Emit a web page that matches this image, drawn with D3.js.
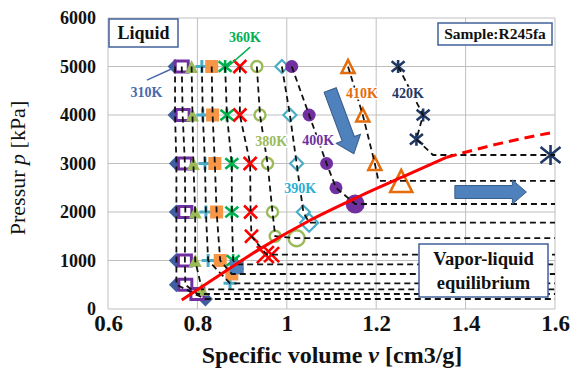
<!DOCTYPE html>
<html>
<head>
<meta charset="utf-8">
<script src="https://cdn.jsdelivr.net/npm/d3@7"></script>
<style>
body { margin: 0; background: #fff; }
</style>
</head>
<body>
<div id="chart"></div>
<script>
// isotherms of R245fa: [specific volume cm3/g, pressure kPa]
var temps = ["310K", "320K", "330K", "340K", "350K", "360K", "370K", "380K", "390K", "400K", "410K", "420K"];

var iso310 = [[0.750, 5000], [0.750, 4000], [0.753, 3000], [0.753, 2000], [0.753, 1000], [0.753, 500]];
var iso320 = [[0.765, 5000], [0.767, 4000], [0.772, 3000], [0.773, 2000], [0.772, 1000], [0.773, 500]];
var iso330 = [[0.787, 5000], [0.789, 4000], [0.791, 3000], [0.795, 2000], [0.795, 1000]];
var iso340 = [[0.810, 5000], [0.812, 4000], [0.817, 3000], [0.819, 2000], [0.824, 1000]];
var iso350 = [[0.832, 5000], [0.834, 4000], [0.839, 3000], [0.843, 2000], [0.851, 1000]];
var iso360 = [[0.862, 5000], [0.866, 4000], [0.877, 3000], [0.877, 2000], [0.880, 1000]];
var iso370 = [[0.895, 5000], [0.895, 4000], [0.918, 3000], [0.919, 2000], [0.921, 1500]];
var iso380 = [[0.933, 5000], [0.940, 4000], [0.957, 3000], [0.968, 2000], [0.974, 1500]];
var iso390 = [[0.989, 5000], [1.007, 4000], [1.022, 3000], [1.037, 2000]];
var iso400 = [[1.011, 5000], [1.050, 4000], [1.089, 3000], [1.110, 2500]];
var iso410 = [[1.137, 5000], [1.170, 4000], [1.197, 3000]];
var iso420 = [[1.249, 5000], [1.305, 4000], [1.290, 3500]];

// vapor-liquid equilibrium pressure of each isotherm, where its dashed line bends, and its marker
var satP  = [206, 309, 406, 530, 722, 920, 1120, 1460, 1780, 2165, 2640, 3175];
var kneeV = [0.818, 0.800, 0.810, 0.873, 0.877, 0.888, 0.955, 1.022, 1.050, 1.153, 1.205, 1.327];
var satV  = [0.818, 0.800, 0.810, 0.873, 0.877, 0.888, 0.952, 1.022, 1.050, 1.153, 1.256, 1.590];
var extraSquare = [[0.888, 860]];
var extraCross = [[0.966, 1120]];

// saturated liquid line (solid part, then extrapolated dashed part)
var satLineV = [0.765, 0.850, 0.940, 1.052, 1.164, 1.268, 1.358];
var satLineP = [185, 700, 1240, 1830, 2330, 2760, 3130];
var extLineV = [1.358, 1.480, 1.600];
var extLineP = [3130, 3420, 3650];

var xTicks = [0.6, 0.8, 1, 1.2, 1.4, 1.6];
var yTicks = [0, 1000, 2000, 3000, 4000, 5000, 6000];

// temperature label positions [v, p] and leader lines
var labelPos = [[0.686, 4480], null, null, null, null, [0.9065, 5610], null, [0.965, 3464], [1.030, 2495], [1.070, 3485], [1.168, 4454], [1.271, 4454]];
var leader310 = [[0.687, 4720], [0.748, 4975]];
var leader360 = [[0.918, 5400], [0.866, 4980]];

var isos = [iso310, iso320, iso330, iso340, iso350, iso360, iso370, iso380, iso390, iso400, iso410, iso420];
var kinds = ["diamond", "openSquare", "triangle", "plus", "square", "star", "cross", "openCircle", "openDiamond", "circle", "openTriangle", "star"];
var colors = ["#3F5FA0", "#7030A0", "#9BBB59", "#4BACC6", "#F79646", "#00B050", "#FF0000", "#9BBB59", "#4BACC6", "#7030A0", "#E46C0A", "#1F3864"];
var labelColors = ["#4769AE", "", "", "", "", "#00B050", "", "#9BBB59", "#2AAED6", "#7030A0", "#E46C0A", "#1F3864"];
var satSizes = [13, 13, 13, 13, 13, 13, 17, 18, 18, 19, 22, 20];

var W = 582, H = 373;
var pL = 108, pR = 555, pT = 18, pB = 309;
var serif = "'Liberation Serif', 'Times New Roman', serif";

var x = d3.scaleLinear().domain([0.6, 1.6]).range([pL, pR]);
var y = d3.scaleLinear().domain([0, 6000]).range([pB, pT]);

var svg = d3.select("#chart").append("svg")
  .attr("width", W)
  .attr("height", H)
  .style("font-family", serif);

svg.append("rect").attr("width", W).attr("height", H).attr("fill", "#fff");

// grid
var grid = svg.append("g");
grid.selectAll(".hg").data(yTicks).enter().append("line")
  .attr("x1", pL).attr("x2", pR)
  .attr("y1", function(d) { return y(d); }).attr("y2", function(d) { return y(d); })
  .attr("stroke", "#BFBFBF").attr("stroke-width", 1);
grid.selectAll(".vg").data(xTicks).enter().append("line")
  .attr("y1", pT).attr("y2", pB)
  .attr("x1", function(d) { return x(d); }).attr("x2", function(d) { return x(d); })
  .attr("stroke", "#BFBFBF").attr("stroke-width", 1);

// axes (labels only)
var yAxis = svg.append("g")
  .attr("transform", "translate(" + pL + ",0)")
  .call(d3.axisLeft(y).tickValues(yTicks).tickSize(0).tickPadding(12).tickFormat(d3.format("d")));
yAxis.select(".domain").remove();
yAxis.selectAll("text").attr("font-family", serif).attr("font-size", 18).attr("font-weight", "bold").attr("fill", "#111");

var xAxis = svg.append("g")
  .attr("transform", "translate(0," + pB + ")")
  .call(d3.axisBottom(x).tickValues(xTicks).tickSize(0).tickPadding(6).tickFormat(function(d) { return String(d); }));
xAxis.select(".domain").remove();
xAxis.selectAll("text").attr("font-family", serif).attr("font-size", 23).attr("font-weight", "bold").attr("fill", "#111");

// marker drawing
function drawMarker(g, kind, color, s) {
  var h = s / 2;
  if (kind === "diamond") {
    g.append("path").attr("d", "M0," + (-h - 1) + "L" + (h + 1) + ",0L0," + (h + 1) + "L" + (-h - 1) + ",0Z").attr("fill", color);
  } else if (kind === "openDiamond") {
    g.append("path").attr("d", "M0," + (-h) + "L" + h + ",0L0," + h + "L" + (-h) + ",0Z").attr("fill", "#fff").attr("stroke", color).attr("stroke-width", 2.2);
  } else if (kind === "openSquare") {
    g.append("rect").attr("x", -h).attr("y", -h + 1).attr("width", s).attr("height", s - 2).attr("fill", "#fff").attr("stroke", color).attr("stroke-width", 3);
  } else if (kind === "square") {
    g.append("rect").attr("x", -h).attr("y", -h).attr("width", s).attr("height", s).attr("fill", color);
  } else if (kind === "triangle") {
    g.append("path").attr("d", "M0," + (-h) + "L" + h + "," + h + "L" + (-h) + "," + h + "Z").attr("fill", color);
  } else if (kind === "openTriangle") {
    g.append("path").attr("d", "M0," + (-h) + "L" + h + "," + h + "L" + (-h) + "," + h + "Z").attr("fill", "#fff").attr("stroke", color).attr("stroke-width", 2.6);
  } else if (kind === "plus") {
    g.append("path").attr("d", "M" + (-h) + ",0H" + h + "M0," + (-h) + "V" + h).attr("stroke", color).attr("stroke-width", 3);
  } else if (kind === "cross") {
    g.append("path").attr("d", "M" + (-h) + "," + (-h) + "L" + h + "," + h + "M" + (-h) + "," + h + "L" + h + "," + (-h)).attr("stroke", color).attr("stroke-width", 2.6);
  } else if (kind === "star") {
    g.append("path").attr("d", "M" + (-h) + "," + (-h * 0.8) + "L" + h + "," + (h * 0.8) + "M" + (-h) + "," + (h * 0.8) + "L" + h + "," + (-h * 0.8) + "M0," + (-h) + "V" + h).attr("stroke", color).attr("stroke-width", 2.6);
  } else if (kind === "circle") {
    g.append("circle").attr("r", h).attr("fill", color);
  } else if (kind === "openCircle") {
    g.append("circle").attr("r", h - 1).attr("fill", "#fff").attr("stroke", color).attr("stroke-width", 2.4);
  }
}

var marks = svg.append("g");
isos.forEach(function(pts, i) {
  pts.forEach(function(p) {
    var g = marks.append("g").attr("transform", "translate(" + x(p[0]) + "," + y(p[1]) + ")");
    drawMarker(g, kinds[i], colors[i], 13);
  });
  var gs = marks.append("g").attr("transform", "translate(" + x(satV[i]) + "," + y(satP[i]) + ")");
  drawMarker(gs, kinds[i], colors[i], satSizes[i]);
});
extraCross.forEach(function(p) {
  var g = marks.append("g").attr("transform", "translate(" + x(p[0]) + "," + y(p[1]) + ")");
  drawMarker(g, "cross", colors[6], 15);
});
extraSquare.forEach(function(p) {
  marks.append("rect")
    .attr("x", x(p[0]) - 7).attr("y", y(p[1]) - 7).attr("width", 14).attr("height", 14)
    .attr("fill", "#4F81BD");
});

// dashed isotherm lines, then horizontal at the equilibrium pressure to the right edge
var line = d3.line().x(function(d) { return x(d[0]); }).y(function(d) { return y(d[1]); });
isos.forEach(function(pts, i) {
  var path = pts.concat([[kneeV[i], satP[i]], [1.6, satP[i]]]);
  svg.append("path").attr("d", line(path))
    .attr("fill", "none").attr("stroke", "#111").attr("stroke-width", 1.8).attr("stroke-dasharray", "6,4");
});

// saturated liquid line
var satLine = d3.line().curve(d3.curveMonotoneX)
  .x(function(d) { return x(d); }).y(function(d, i) { return y(satLineP[i]); });
svg.append("path").attr("d", satLine(satLineV))
  .attr("fill", "none").attr("stroke", "#FF0000").attr("stroke-width", 3);
var extLine = d3.line().curve(d3.curveMonotoneX)
  .x(function(d) { return x(d); }).y(function(d, i) { return y(extLineP[i]); });
svg.append("path").attr("d", extLine(extLineV))
  .attr("fill", "none").attr("stroke", "#FF0000").attr("stroke-width", 3).attr("stroke-dasharray", "10,6");

// block arrows
function blockArrow(x0, y0, x1, y1, bw, hw, hl) {
  var dx = x1 - x0, dy = y1 - y0, L = Math.sqrt(dx * dx + dy * dy);
  var pts = [[0, -bw / 2], [L - hl, -bw / 2], [L - hl, -hw / 2], [L, 0], [L - hl, hw / 2], [L - hl, bw / 2], [0, bw / 2]];
  var ang = Math.atan2(dy, dx) * 180 / Math.PI;
  svg.append("path")
    .attr("d", "M" + pts.map(function(p) { return p.join(","); }).join("L") + "Z")
    .attr("transform", "translate(" + x0 + "," + y0 + ") rotate(" + ang + ")")
    .attr("fill", "#4F81BD").attr("stroke", "#385D8A").attr("stroke-width", 1);
}
blockArrow(x(1.097), y(4515), x(1.150), y(3200), 13, 26, 16);
blockArrow(x(1.376), y(2412), x(1.536), y(2412), 13, 24, 14);

// temperature labels
var labels = svg.append("g");
temps.forEach(function(t, i) {
  if (!labelPos[i]) return;
  labels.append("text")
    .attr("x", x(labelPos[i][0])).attr("y", y(labelPos[i][1]))
    .attr("dy", "0.35em").attr("text-anchor", "middle")
    .attr("font-size", 14).attr("font-weight", "bold")
    .attr("fill", labelColors[i])
    .attr("stroke", "#fff").attr("stroke-width", 3).attr("paint-order", "stroke")
    .text(t);
});
svg.append("path").attr("d", line(leader310)).attr("stroke", labelColors[0]).attr("stroke-width", 1.5);
svg.append("path").attr("d", line(leader360)).attr("stroke", labelColors[5]).attr("stroke-width", 1.5);

// text boxes
function textBox(x0, y0, x1, y1, lines, size) {
  svg.append("rect").attr("x", x0).attr("y", y0).attr("width", x1 - x0).attr("height", y1 - y0)
    .attr("fill", "#fff").attr("stroke", "#41609A").attr("stroke-width", 1.5);
  var cy = (y0 + y1) / 2, n = lines.length, lh = size * 1.3;
  lines.forEach(function(s, k) {
    svg.append("text")
      .attr("x", (x0 + x1) / 2).attr("y", cy + (k - (n - 1) / 2) * lh)
      .attr("dy", "0.35em").attr("text-anchor", "middle")
      .attr("font-size", size).attr("font-weight", "bold").attr("fill", "#111")
      .text(s);
  });
}
textBox(109, 19, 178, 47, ["Liquid"], 18);
textBox(438, 23, 552, 45, ["Sample:R245fa"], 15.5);
textBox(419, 244, 548, 297, ["Vapor-liquid", "equilibrium"], 18.5);

// axis titles
var xt = svg.append("text").attr("x", 332).attr("y", 363)
  .attr("text-anchor", "middle").attr("font-size", 24).attr("font-weight", "bold").attr("fill", "#111");
xt.append("tspan").text("Specific volume ");
xt.append("tspan").attr("font-style", "italic").text("v");
xt.append("tspan").text(" [cm3/g]");

var yt = svg.append("text").attr("transform", "translate(25,168) rotate(-90)")
  .attr("text-anchor", "middle").attr("font-size", 22).attr("fill", "#111");
yt.append("tspan").text("Pressur ");
yt.append("tspan").attr("font-style", "italic").text("p");
yt.append("tspan").text(" [kPa]");
</script>
</body>
</html>
